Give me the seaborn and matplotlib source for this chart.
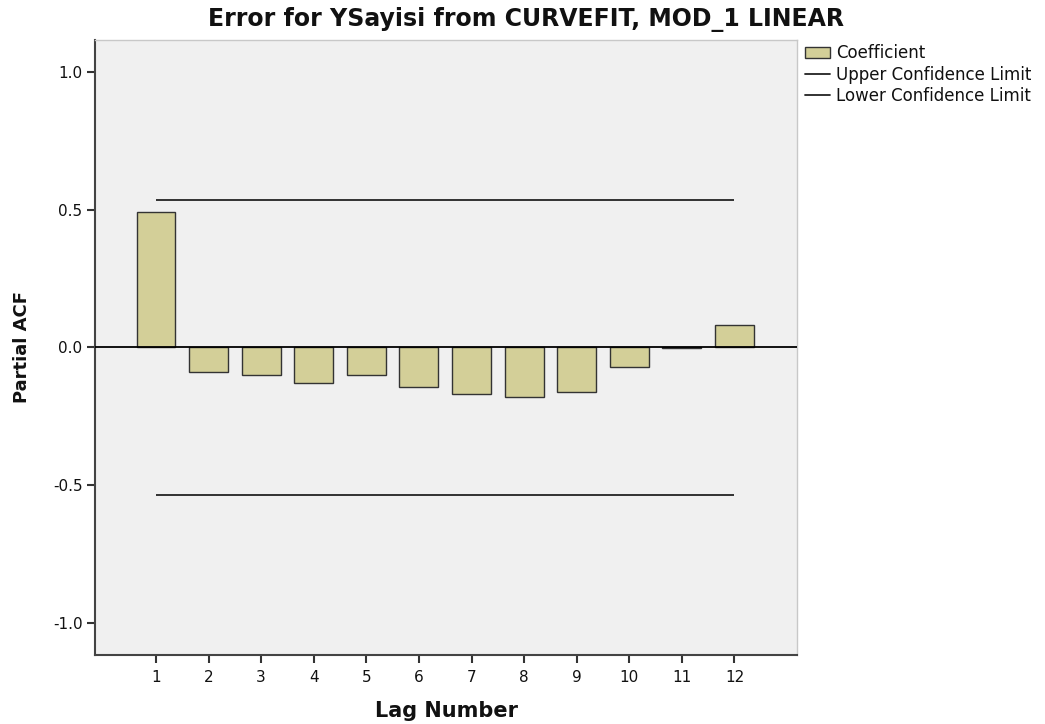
import pandas as pd
import seaborn as sns
import matplotlib.pyplot as plt
from matplotlib.patches import Patch
from matplotlib.lines import Line2D

# partial autocorrelation values
lags = [1, 2, 3, 4, 5, 6, 7, 8, 9, 10, 11, 12]
pacf = [0.49, -0.09, -0.10, -0.13, -0.10, -0.145, -0.17, -0.18, -0.16, -0.07, -0.002, 0.083]
upper_limit = 0.534
lower_limit = -0.534

df = pd.DataFrame({"lag": lags, "pacf": pacf})

sns.set_theme(style="white")
plt.rcParams["font.family"] = ["DejaVu Sans"]

fig = plt.figure(figsize=(10.45, 7.24), dpi=100)
ax = fig.add_axes([0.0909, 0.0953, 0.6718, 0.8495])
ax.set_facecolor("#f0f0f0")

sns.barplot(data=df, x="lag", y="pacf", color="#d3cf98", saturation=1,
            width=0.74, edgecolor="#333333", linewidth=1, ax=ax)

ax.axhline(0, color="black", linewidth=1.3, zorder=3)
ax.hlines([upper_limit, lower_limit], 0, len(lags) - 1, color="#222222", linewidth=1.3)

ax.set_xlim(-1.16, 12.19)
ax.set_ylim(-1.116, 1.116)
ax.set_yticks([-1.0, -0.5, 0.0, 0.5, 1.0])
ax.set_yticklabels(["-1.0", "-0.5", "0.0", "0.5", "1.0"])
ax.tick_params(axis="both", direction="out", length=6, width=1.5, color="#333333",
               labelsize=11, labelcolor="#111111", pad=3, bottom=True, left=True)
ax.tick_params(axis="x", pad=5)

for side in ["left", "bottom"]:
    ax.spines[side].set_color("#444444")
    ax.spines[side].set_linewidth(1.5)
for side in ["top", "right"]:
    ax.spines[side].set_color("#c8c8c8")
    ax.spines[side].set_linewidth(1)

ax.set_xlabel("Lag Number", fontsize=15, fontweight="bold", labelpad=11, color="#111111")
ax.set_ylabel("Partial ACF", fontsize=13, fontweight="bold", labelpad=16, color="#111111")
fig.suptitle("Error for YSayisi from CURVEFIT, MOD_1 LINEAR", fontsize=17,
             fontweight="bold", x=0.503, y=0.99, va="top", color="#111111")

handles = [
    Patch(facecolor="#d3cf98", edgecolor="#333333", label="Coefficient"),
    Line2D([0], [0], color="#222222", linewidth=1.3, label="Upper Confidence Limit"),
    Line2D([0], [0], color="#222222", linewidth=1.3, label="Lower Confidence Limit"),
]
fig.legend(handles=handles, loc="upper left", bbox_to_anchor=(0.764, 0.948),
           frameon=False, fontsize=12, handlelength=1.5, handletextpad=0.35,
           labelspacing=0.2, borderaxespad=0, labelcolor="#111111")

fig.savefig("out.png", dpi=100)
